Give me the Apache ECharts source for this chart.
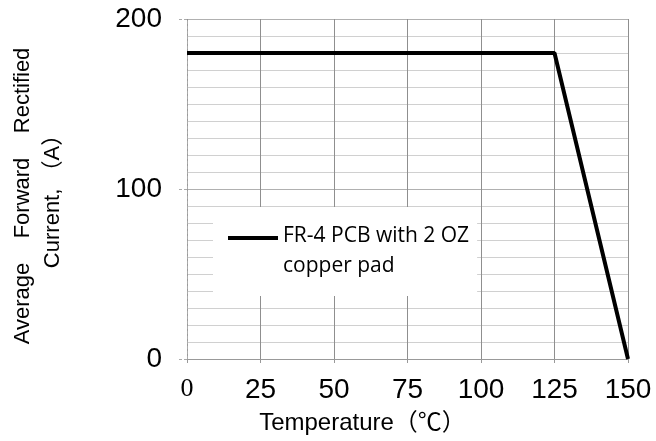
<!DOCTYPE html>
<html>
<head>
<meta charset="utf-8">
<script src="https://cdn.jsdelivr.net/npm/echarts@6/dist/echarts.min.js"></script>
<style>
html,body{margin:0;padding:0;background:#fff;}
#chart{width:656px;height:441px;}
</style>
</head>
<body>
<div id="chart"></div>
<script>
const temperatures = [0, 125, 150];
const currents = [180, 180, 0];
const seriesName = 'FR-4 PCB with 2 OZ\ncopper pad';
const xTicks = [0, 25, 50, 75, 100, 125, 150];
const yTicks = [0, 100, 200];
const xTitle = 'Temperature（℃）';
const yTitle = 'Average    Forward    Rectified\nCurrent, （A）';

const chart = echarts.init(document.getElementById('chart'));
chart.setOption({
  backgroundColor: '#fff',
  animation: false,
  grid: { left: 185, right: 28, top: 19, bottom: 82 },
  legend: {
    left: 213, top: 207,
    backgroundColor: '#fff',
    padding: [14, 8, 15, 15],
    selectedMode: false,
    itemWidth: 50, itemHeight: 31,
    icon: 'path://M0,0 H52 V4 H0 Z M0,31 h0.01 v0.01 h-0.01 Z',
    textStyle: { fontFamily: 'Open Sans', fontSize: 21, lineHeight: 30, color: '#000' },
    data: [seriesName]
  },
  xAxis: {
    type: 'value', min: xTicks[0], max: xTicks[xTicks.length - 1], interval: 25,
    name: xTitle, nameLocation: 'middle', nameGap: 52,
    nameTextStyle: { fontFamily: 'Liberation Sans, Arial, "Noto Sans CJK SC"', fontSize: 24, color: '#000', padding: [0, 90, 0, 0] },
    axisLine: { show: true, lineStyle: { color: '#999', width: 1 } },
    axisTick: { show: true, length: 4, lineStyle: { color: '#999' } },
    axisLabel: {
      margin: 17, color: '#000',
      formatter: v => v === 0 ? '{s|0}' : '{n|' + v + '}',
      rich: {
        s: { fontFamily: 'Liberation Serif, "Times New Roman"', fontSize: 26, color: '#000' },
        n: { fontFamily: 'Liberation Sans, Arial', fontSize: 28, color: '#000' }
      }
    },
    splitLine: { show: true, lineStyle: { color: '#8f8f8f', width: 1 } }
  },
  yAxis: {
    type: 'value', min: yTicks[0], max: yTicks[yTicks.length - 1], interval: 100,
    name: yTitle, nameLocation: 'middle', nameGap: 119, nameRotate: 90,
    nameTextStyle: { fontFamily: 'Liberation Sans, Arial, "Noto Sans CJK SC"', fontSize: 22, lineHeight: 30, color: '#000', padding: [0, 14, 0, 0] },
    axisLine: { show: true, lineStyle: { color: '#aaa', width: 1, type: [3, 2] } },
    axisTick: { show: true, length: 8, lineStyle: { color: '#aaa', type: [3, 2] } },
    axisLabel: { margin: 25, fontFamily: 'Liberation Sans, Arial', fontSize: 28, color: '#000' },
    splitLine: { show: true, lineStyle: { color: '#b0b0b0', width: 1 } },
    minorTick: { show: false, splitNumber: 10 },
    minorSplitLine: { show: true, lineStyle: { color: '#d0d0d0', width: 1 } }
  },
  series: [{
    name: seriesName,
    type: 'line',
    data: temperatures.map((t, i) => [t, currents[i]]),
    symbol: 'none',
    lineStyle: { color: '#000', width: 4 },
    itemStyle: { color: '#000' }
  }]
});
</script>
</body>
</html>
